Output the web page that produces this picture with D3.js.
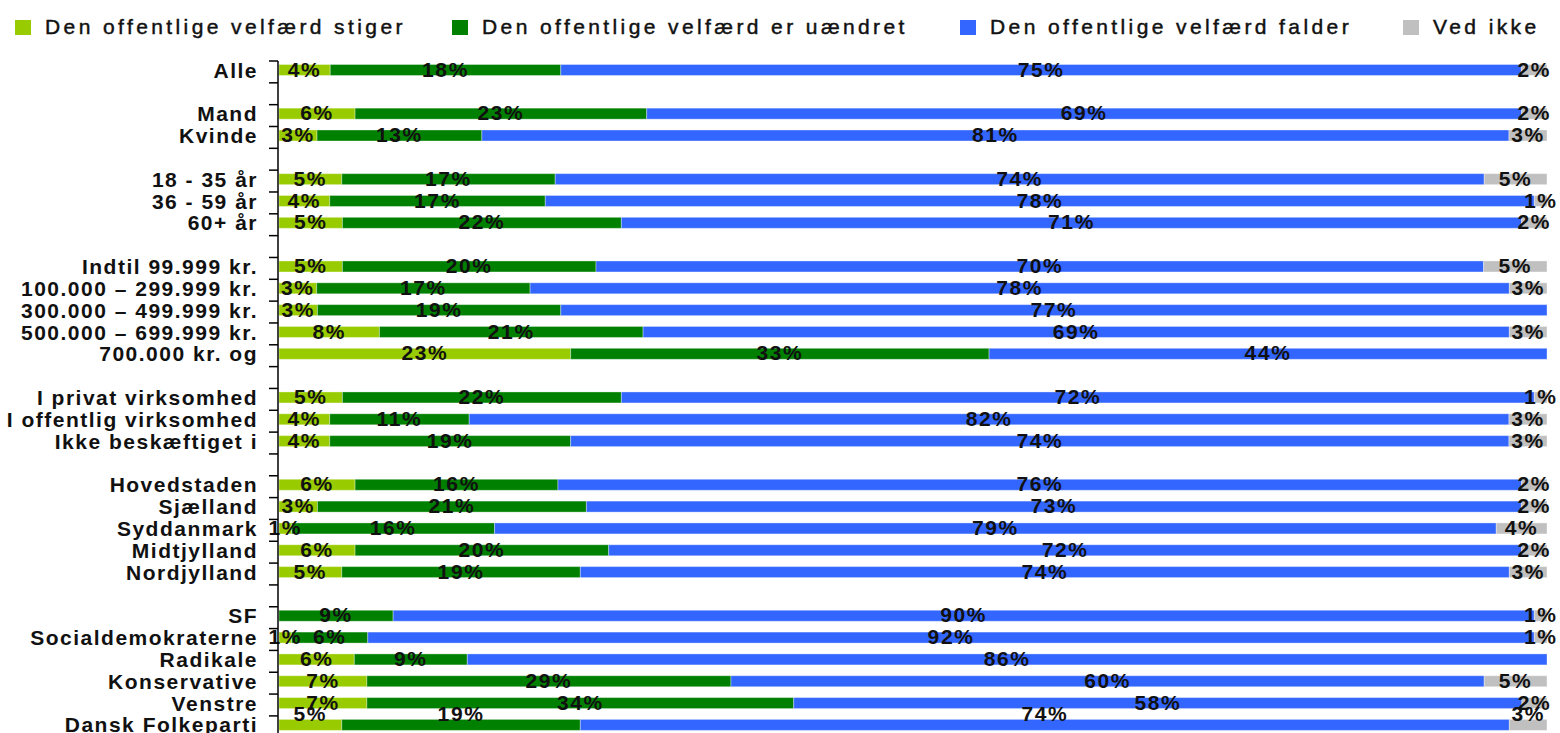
<!DOCTYPE html>
<html>
<head>
<meta charset="utf-8">
<script src="https://cdn.jsdelivr.net/npm/d3@7"></script>
<style>
  body { margin: 0; background: #fff; overflow: hidden; }
  svg { display: block; }
</style>
</head>
<body>
<script>
// rows, "" = empty spacer row between groups
var categories = ["Alle", "", "Mand", "Kvinde", "", "18 - 35 år", "36 - 59 år", "60+ år", "",
    "Indtil 99.999 kr.", "100.000 – 299.999 kr.", "300.000 – 499.999 kr.", "500.000 – 699.999 kr.", "700.000 kr. og", "",
    "I privat virksomhed", "I offentlig virksomhed", "Ikke beskæftiget i", "",
    "Hovedstaden", "Sjælland", "Syddanmark", "Midtjylland", "Nordjylland", "",
    "SF", "Socialdemokraterne", "Radikale", "Konservative", "Venstre", "Dansk Folkeparti"];

var stiger   = [4, null, 6, 3, null, 5, 4, 5, null, 5, 3, 3, 8, 23, null, 5, 4, 4, null, 6, 3, 1, 6, 5, null, 0, 1, 6, 7, 7, 5];
var uaendret = [18, null, 23, 13, null, 17, 17, 22, null, 20, 17, 19, 21, 33, null, 22, 11, 19, null, 16, 21, 16, 20, 19, null, 9, 6, 9, 29, 34, 19];
var falder   = [75, null, 69, 81, null, 74, 78, 71, null, 70, 78, 77, 69, 44, null, 72, 82, 74, null, 76, 73, 79, 72, 74, null, 90, 92, 86, 60, 58, 74];
var vedIkke  = [2, null, 2, 3, null, 5, 1, 2, null, 5, 3, 0, 3, 0, null, 1, 3, 3, null, 2, 2, 4, 2, 3, null, 1, 1, 0, 5, 2, 3];

var seriesNames = ["Den offentlige velfærd stiger", "Den offentlige velfærd er uændret",
    "Den offentlige velfærd falder", "Ved ikke"];
var colors = ["#99cc00", "#008000", "#3366ff", "#c0c0c0"];

var W = 1560, H = 733;
var svg = d3.select("body").append("svg").attr("width", W).attr("height", H)
    .style("font-family", "'Liberation Sans', Arial, sans-serif");

var rows = categories.map(function (c, i) {
    return { i: i, name: c, vals: [stiger[i], uaendret[i], falder[i], vedIkke[i]] };
});

var y = d3.scaleBand().domain(d3.range(categories.length)).range([61, 61 + 31 * 21.83]);
var x = d3.scaleLinear().domain([0, 1]).range([279, 1547]);

// legend
var legendX = [15, 452, 960, 1403];
var legend = svg.selectAll("g.legend").data(seriesNames).enter().append("g")
    .attr("class", "legend")
    .attr("transform", function (d, i) { return "translate(" + legendX[i] + ",20)"; });
legend.append("rect").attr("width", 16).attr("height", 15)
    .attr("fill", function (d, i) { return colors[i]; });
legend.append("text").attr("x", 30).attr("y", 14)
    .attr("font-size", 21).attr("letter-spacing", 3.4).attr("fill", "#111")
    .attr("stroke", "#111").attr("stroke-width", 0.45)
    .text(function (d) { return d; });

// bars
var barRows = rows.filter(function (r) { return r.name !== ""; });
barRows.forEach(function (r) {
    var total = d3.sum(r.vals);
    var acc = 0;
    var segs = r.vals.map(function (v, k) {
        var s = { k: k, v: v, x0: acc / total };
        acc += v;
        s.x1 = acc / total;
        return s;
    });
    var g = svg.append("g");
    var cy = y(r.i) + 9;
    g.selectAll("rect").data(segs.filter(function (s) { return s.v > 0; })).enter().append("rect")
        .attr("x", function (s) { return x(s.x0); })
        .attr("y", cy - 5.5)
        .attr("width", function (s) { return x(s.x1) - x(s.x0); })
        .attr("height", 11)
        .attr("fill", function (s) { return colors[s.k]; })
        .attr("stroke", "#fff").attr("stroke-opacity", 0.35).attr("stroke-width", 1);
    g.selectAll("text").data(segs.filter(function (s) { return s.v > 0; })).enter().append("text")
        .attr("x", function (s) { return (x(s.x0) + x(s.x1)) / 2; })
        .attr("y", Math.min(cy - 1, 713))
        .attr("dy", "0.36em")
        .attr("text-anchor", "middle")
        .attr("font-size", 21).attr("font-weight", "bold").attr("letter-spacing", 1.6)
        .attr("fill", "#111")
        .text(function (s) { return s.v + "%"; });
});

// y axis
var axis = svg.append("g");
axis.append("line").attr("x1", 278).attr("x2", 278).attr("y1", y(0)).attr("y2", H + 20)
    .attr("stroke", "#000").attr("stroke-width", 1.5);
axis.selectAll("line.tick").data(d3.range(categories.length + 1)).enter().append("line")
    .attr("class", "tick")
    .attr("x1", 269).attr("x2", 278)
    .attr("y1", function (d) { return 61 + d * y.step(); })
    .attr("y2", function (d) { return 61 + d * y.step(); })
    .attr("stroke", "#000").attr("stroke-width", 1.5);
axis.selectAll("text").data(barRows).enter().append("text")
    .attr("x", 258)
    .attr("y", function (r) { return y(r.i) + 9; })
    .attr("dy", "0.36em")
    .attr("text-anchor", "end")
    .attr("font-size", 21).attr("font-weight", "bold").attr("letter-spacing", 1.5)
    .attr("fill", "#111")
    .text(function (r) { return r.name; });
</script>
</body>
</html>
